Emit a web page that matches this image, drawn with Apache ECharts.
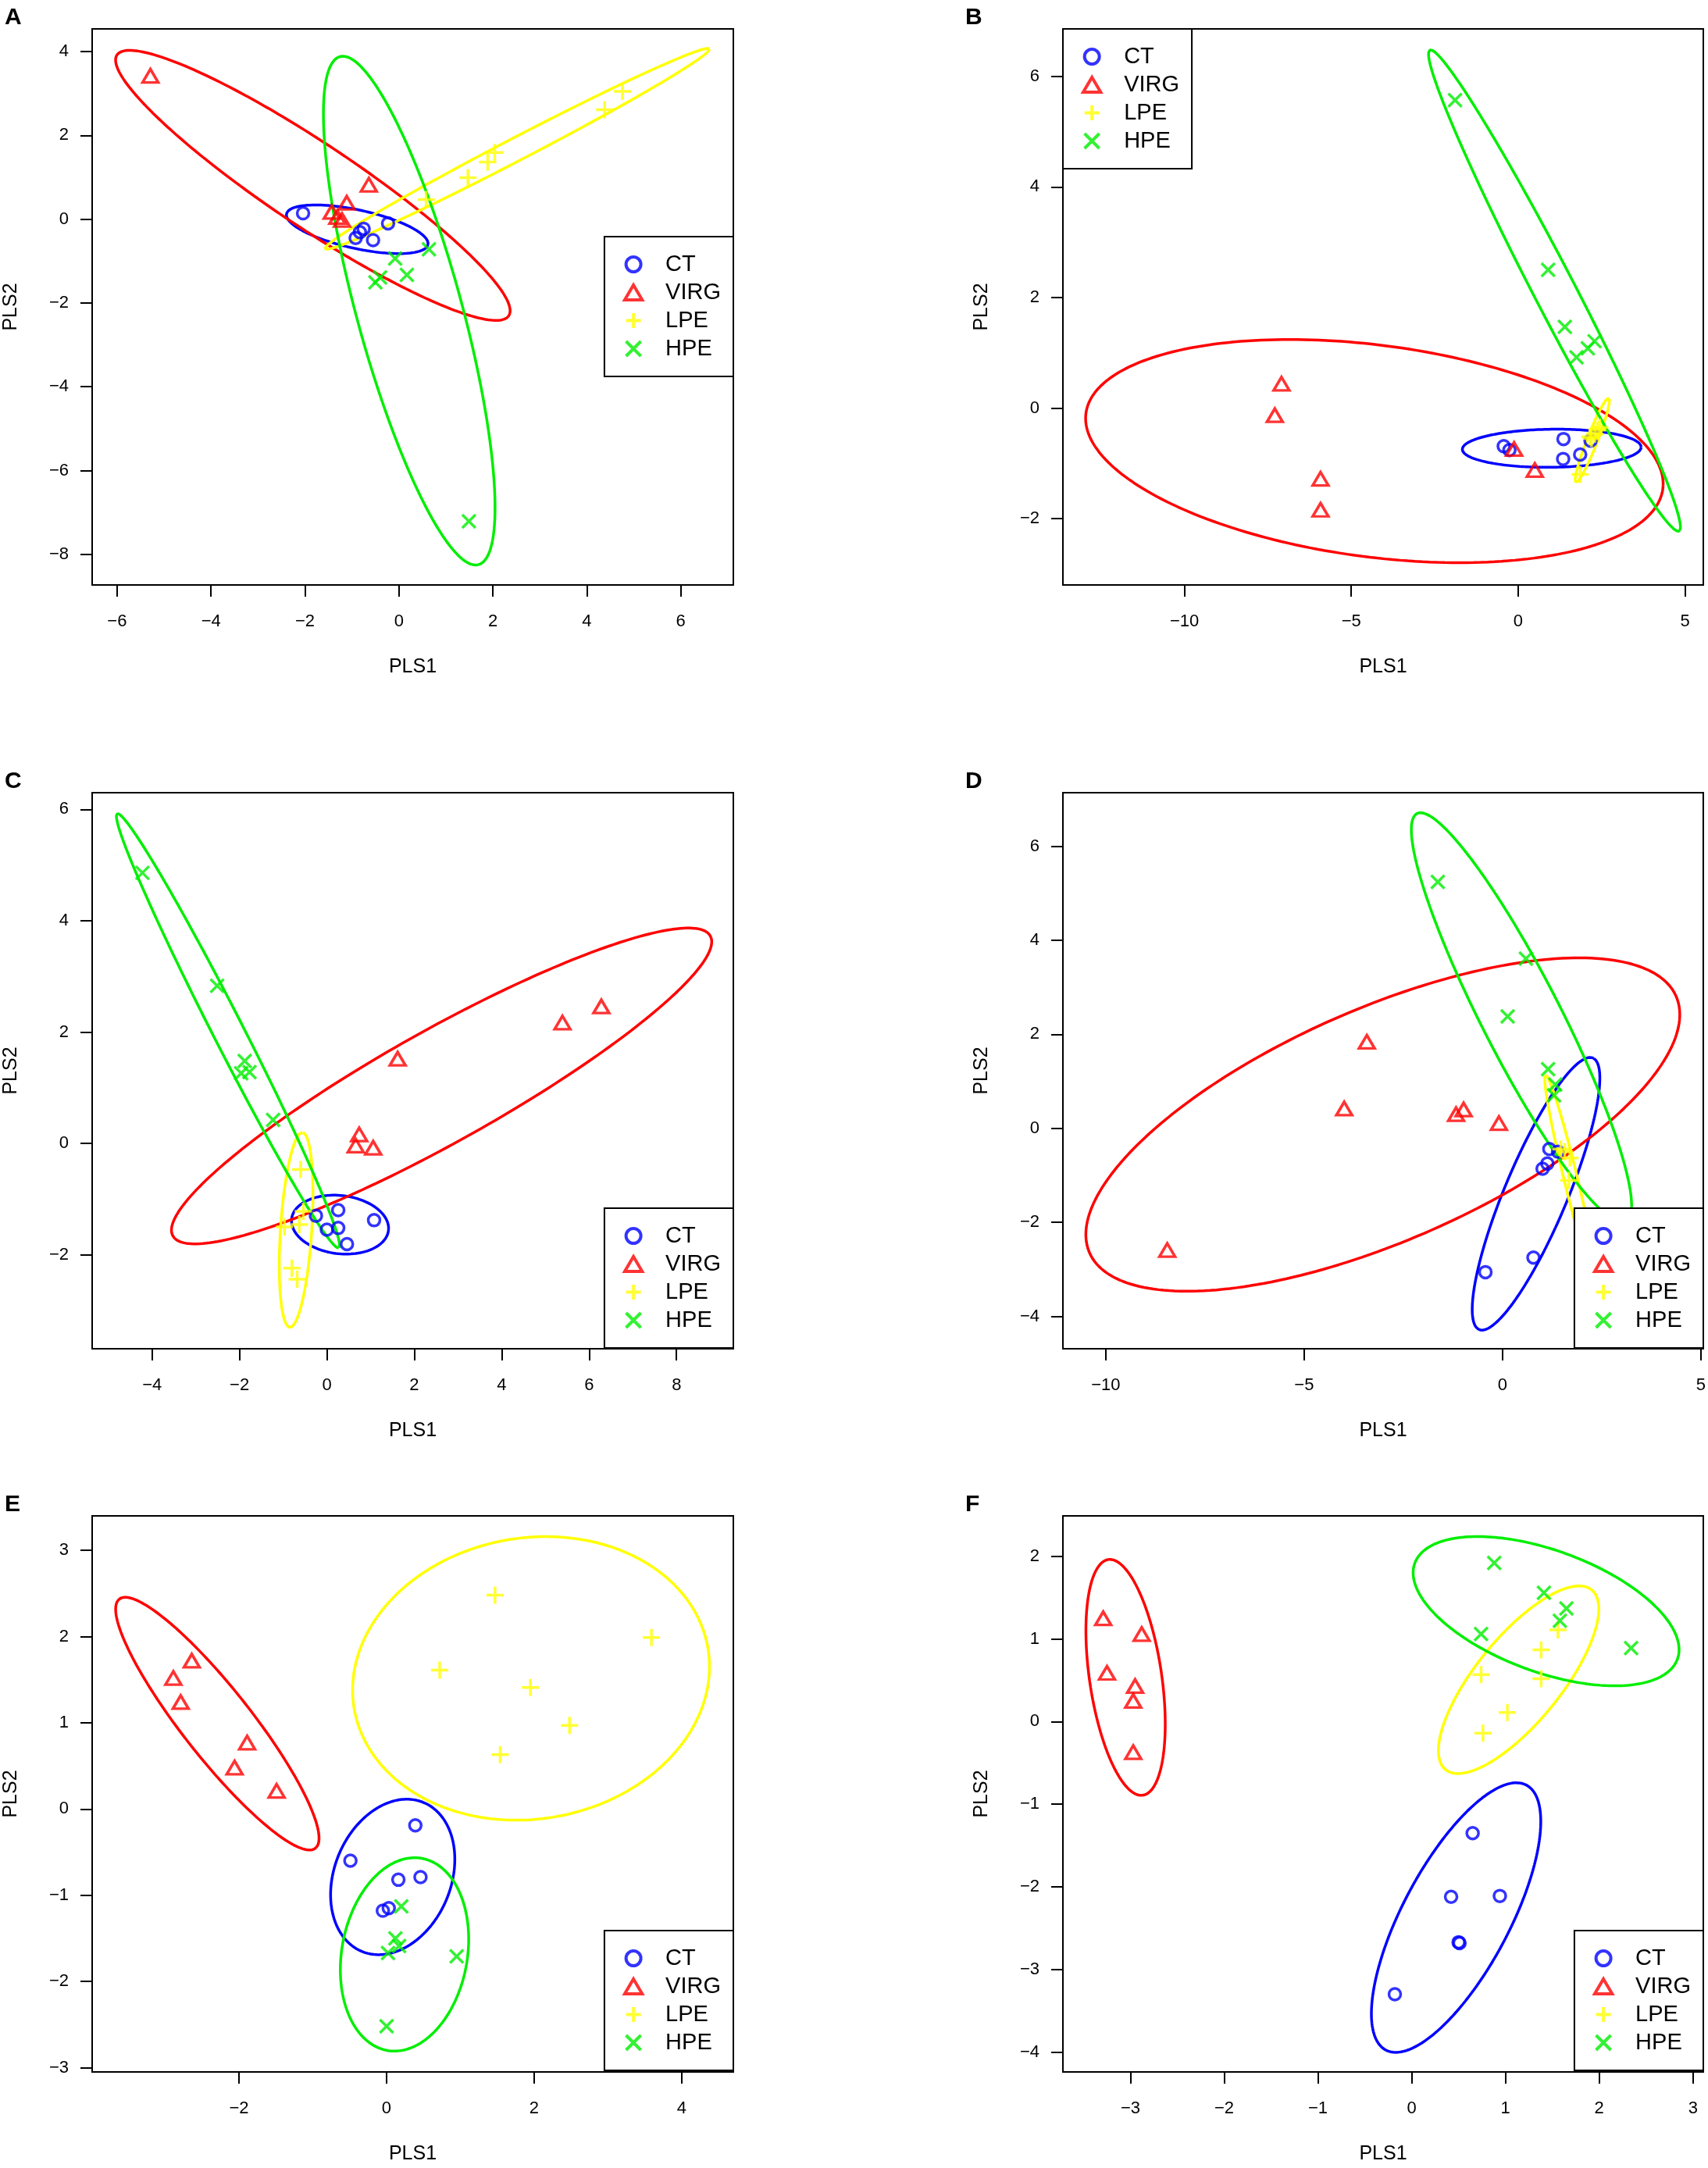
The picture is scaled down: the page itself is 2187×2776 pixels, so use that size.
<!DOCTYPE html>
<html><head><meta charset="utf-8">
<script src="https://cdn.jsdelivr.net/npm/echarts@6/dist/echarts.min.js"></script>
<style>html,body{margin:0;padding:0;background:#fff}#c{width:2187px;height:2776px}</style>
</head><body><div id="c"></div>
<script>
// ---------- data ----------
const groups = ['CT', 'VIRG', 'LPE', 'HPE'];
const panelLabels = ['A', 'B', 'C', 'D', 'E', 'F'];

const A_CT   = [[-2.04,0.14],[-0.23,-0.10],[-0.55,-0.50],[-0.75,-0.23],[-0.83,-0.31],[-0.92,-0.45]];
const A_VIRG = [[-5.29,3.42],[-0.64,0.82],[-1.11,0.39],[-1.43,0.17],[-1.31,0.05],[-1.21,-0.02]];
const A_LPE  = [[4.76,3.05],[4.38,2.61],[2.04,1.59],[1.89,1.36],[1.47,0.99],[0.58,0.47]];
const A_HPE  = [[1.49,-7.21],[0.64,-0.72],[-0.08,-0.94],[0.17,-1.33],[-0.50,-1.51],[-0.40,-1.39]];

const B_CT   = [[-0.43,-0.69],[-0.26,-0.76],[1.36,-0.56],[1.35,-0.92],[1.86,-0.84],[2.17,-0.59]];
const B_VIRG = [[-7.09,0.44],[-7.29,-0.13],[-5.92,-1.28],[-5.92,-1.84],[-0.12,-0.74],[0.50,-1.12]];
const B_LPE  = [[1.86,-1.20],[2.15,-0.52],[2.20,-0.55],[2.30,-0.47],[2.38,-0.40],[2.45,-0.35]];
const B_HPE  = [[-1.89,5.57],[0.90,2.50],[1.40,1.47],[1.75,0.92],[2.09,1.08],[2.29,1.21]];

const C_CT   = [[-0.25,-1.30],[0.26,-1.20],[1.08,-1.38],[0.00,-1.55],[0.26,-1.52],[0.46,-1.81]];
const C_VIRG = [[6.28,2.46],[5.39,2.17],[1.62,1.52],[0.74,0.16],[0.66,-0.04],[1.06,-0.08]];
const C_LPE  = [[-0.60,-0.47],[-0.80,-2.24],[-0.68,-2.44],[-0.97,-1.50],[-0.63,-1.46],[-0.54,-1.22]];
const C_HPE  = [[-4.22,4.86],[-2.51,2.83],[-1.88,1.48],[-1.96,1.26],[-1.77,1.28],[-1.23,0.42]];

const D_CT   = [[-0.43,-3.06],[0.78,-2.75],[1.01,-0.86],[1.13,-0.75],[1.18,-0.44],[1.40,-0.50]];
const D_VIRG = [[-8.45,-2.59],[-3.99,0.42],[-3.42,1.84],[-1.17,0.30],[-0.98,0.40],[-0.09,0.11]];
const D_LPE  = [[1.47,-0.44],[1.57,-0.50],[1.70,-0.63],[1.67,-1.11],[2.16,-2.58]];
const D_HPE  = [[-1.63,5.24],[0.59,3.61],[0.13,2.38],[1.15,1.26],[1.33,0.93],[1.30,0.70]];

const E_CT   = [[0.39,-0.19],[-0.49,-0.60],[0.16,-0.82],[0.46,-0.79],[-0.05,-1.18],[0.03,-1.15]];
const E_VIRG = [[-2.64,1.72],[-2.89,1.52],[-2.79,1.24],[-1.89,0.77],[-2.06,0.48],[-1.49,0.21]];
const E_LPE  = [[1.47,2.48],[3.59,1.99],[0.72,1.61],[1.95,1.41],[2.48,0.97],[1.54,0.63]];
const E_HPE  = [[0.20,-1.13],[0.12,-1.50],[0.17,-1.59],[0.02,-1.67],[0.95,-1.71],[0.00,-2.52]];

const F_CT   = [[0.65,-1.35],[0.42,-2.12],[0.94,-2.11],[0.50,-2.67],[0.51,-2.68],[-0.18,-3.30]];
const F_VIRG = [[-3.29,1.25],[-2.88,1.06],[-3.25,0.59],[-2.95,0.43],[-2.97,0.25],[-2.97,-0.37]];
const F_LPE  = [[1.56,1.11],[1.38,0.87],[0.74,0.57],[1.38,0.52],[1.02,0.11],[0.76,-0.14]];
const F_HPE  = [[0.88,1.92],[1.41,1.56],[1.65,1.37],[1.58,1.22],[0.74,1.06],[2.34,0.89]];

// axis ranges and tick labels
const xRanges = [[-6.53,7.12],[-13.64,5.55],[-5.37,9.30],[-11.08,5.06],[-3.99,4.70],[-3.72,3.11]];
const yRanges = [[-8.73,4.54],[-3.20,6.86],[-3.69,6.30],[-4.69,7.14],[-3.05,3.40],[-4.24,2.49]];
const xTicks = [[-6,-4,-2,0,2,4,6],[-10,-5,0,5],[-4,-2,0,2,4,6,8],[-10,-5,0,5],[-2,0,2,4],[-3,-2,-1,0,1,2,3]];
const yTicks = [[-8,-6,-4,-2,0,2,4],[-2,0,2,4,6],[-2,0,2,4,6],[-4,-2,0,2,4,6],[-3,-2,-1,0,1,2,3],[-4,-3,-2,-1,0,1,2]];

const panelData = [
  [A_CT, A_VIRG, A_LPE, A_HPE],
  [B_CT, B_VIRG, B_LPE, B_HPE],
  [C_CT, C_VIRG, C_LPE, C_HPE],
  [D_CT, D_VIRG, D_LPE, D_HPE],
  [E_CT, E_VIRG, E_LPE, E_HPE],
  [F_CT, F_VIRG, F_LPE, F_HPE]
];

// ---------- layout & style ----------
const FONT = "'Liberation Sans', Arial, Helvetica, sans-serif";
const colors = {CT:'#0000ff', VIRG:'#ff0000', LPE:'#ffff00', HPE:'#00ee00'};
const symbols = {
  CT: 'circle',
  VIRG: 'path://M10,0L20,17L0,17Z',
  LPE: 'path://M10,0L10,20M0,10L20,10',
  HPE: 'path://M0,0L20,20M20,0L0,20'
};
const symbolSizes = {CT: 15, VIRG: [20,17], LPE: 22, HPE: 17};
const colLeft = [118, 1361];
const rowTop = [37, 1015, 1941];
const GH = 712;
const gridsPos = [0,1,2,3,4,5].map(i => ({left: colLeft[i % 2], top: rowTop[Math.floor(i / 2)], width: i % 2 ? 820 : 821, height: GH}));
// legend placement (R "right", "topleft", "bottomright")
const legendPos = [
  {right: 2187 - 939, top: 303},
  {left: 1361, top: 37},
  {right: 2187 - 939, top: 1547},
  {right: 2187 - 2181, top: 1547},
  {right: 2187 - 939, top: 2472},
  {right: 2187 - 2181, top: 2472}
];

// 95% normal-theory data ellipse (as in R ellipse / mixtools)
function ellipsePts(pts, n) {
  n = n || 240;
  const m = pts.length;
  let mx = 0, my = 0;
  pts.forEach(p => { mx += p[0]; my += p[1]; });
  mx /= m; my /= m;
  let sxx = 0, syy = 0, sxy = 0;
  pts.forEach(p => { const dx = p[0] - mx, dy = p[1] - my; sxx += dx * dx; syy += dy * dy; sxy += dx * dy; });
  sxx /= (m - 1); syy /= (m - 1); sxy /= (m - 1);
  const tr = sxx + syy, det = sxx * syy - sxy * sxy;
  const disc = Math.sqrt(Math.max(0, tr * tr / 4 - det));
  const l1 = tr / 2 + disc, l2 = Math.max(0, tr / 2 - disc);
  const th = 0.5 * Math.atan2(2 * sxy, sxx - syy);
  const c = Math.sqrt(-2 * Math.log(0.05));
  const out = [];
  for (let i = 0; i <= n; i++) {
    const t = 2 * Math.PI * i / n;
    const a = c * Math.sqrt(l1) * Math.cos(t), b = c * Math.sqrt(l2) * Math.sin(t);
    out.push([mx + a * Math.cos(th) - b * Math.sin(th), my + a * Math.sin(th) + b * Math.cos(th)]);
  }
  return out;
}

const fmt = v => String(v).replace('-', '\u2212');

const option = {
  animation: false,
  backgroundColor: '#fff',
  title: panelLabels.map((l, i) => ({
    text: l, left: i % 2 ? 1236 : 6, top: rowTop[Math.floor(i / 2)] - 29, padding: 0,
    textStyle: {fontSize: 30, fontWeight: 'bold', color: '#000', fontFamily: FONT}
  })),
  grid: gridsPos.map(g => Object.assign({show: true, borderColor: '#000', borderWidth: 2, backgroundColor: 'transparent', containLabel: false}, g)),
  xAxis: panelLabels.map((l, i) => ({
    type: 'value', gridIndex: i, position: 'bottom', min: xRanges[i][0], max: xRanges[i][1],
    name: 'PLS1', nameLocation: 'middle', nameGap: 93,
    nameTextStyle: {fontSize: 25, color: '#000', fontFamily: FONT},
    axisLine: {show: false, onZero: false}, splitLine: {show: false},
    axisTick: {show: true, inside: false, length: 15, lineStyle: {color: '#000', width: 2}, customValues: xTicks[i]},
    axisLabel: {show: true, margin: 36, fontSize: 22, color: '#000', fontFamily: FONT, customValues: xTicks[i], formatter: fmt}
  })),
  yAxis: panelLabels.map((l, i) => ({
    type: 'value', gridIndex: i, position: 'left', min: yRanges[i][0], max: yRanges[i][1],
    name: 'PLS2', nameLocation: 'middle', nameGap: 91,
    nameTextStyle: {fontSize: 25, color: '#000', fontFamily: FONT},
    axisLine: {show: false, onZero: false}, splitLine: {show: false},
    axisTick: {show: true, inside: false, length: 15, lineStyle: {color: '#000', width: 2}, customValues: yTicks[i]},
    axisLabel: {show: true, margin: 30, fontSize: 22, color: '#000', fontFamily: FONT, customValues: yTicks[i], formatter: fmt}
  })),
  legend: panelLabels.map((l, i) => Object.assign({
    orient: 'vertical', selectedMode: false,
    itemWidth: 72, itemHeight: 19, itemGap: 7,
    padding: [21, 16, 21, 24],
    borderColor: '#000', borderWidth: 2, borderRadius: 0, backgroundColor: '#fff',
    textStyle: {fontSize: 29, color: '#000', fontFamily: FONT, lineHeight: 29},
    data: groups.map(g => ({
      name: g, icon: symbols[g],
      itemStyle: {color: 'rgba(0,0,0,0)', borderColor: colors[g], borderWidth: 4}
    }))
  }, legendPos[i])),
  series: []
};

panelData.forEach((pd, i) => {
  groups.forEach((g, k) => {
    option.series.push({
      name: g + ' ellipse ' + panelLabels[i], type: 'line', xAxisIndex: i, yAxisIndex: i,
      data: ellipsePts(pd[k]), showSymbol: false, symbol: 'none', silent: true, z: 2,
      lineStyle: {color: colors[g], width: 3.5}, clip: true
    });
  });
  groups.forEach((g, k) => {
    option.series.push({
      name: g, type: 'scatter', xAxisIndex: i, yAxisIndex: i, data: pd[k], z: 3,
      symbol: symbols[g], symbolSize: symbolSizes[g],
      itemStyle: {color: 'rgba(0,0,0,0)', borderColor: colors[g], borderWidth: 3.5}
    });
  });
});

const chart = echarts.init(document.getElementById('c'), null, {renderer: 'canvas'});
chart.setOption(option);
</script>
</body></html>
